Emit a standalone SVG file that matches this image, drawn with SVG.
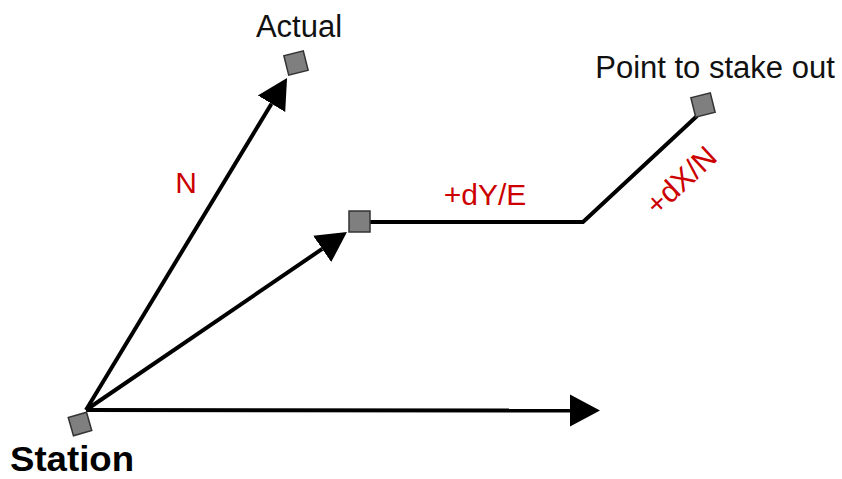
<svg xmlns="http://www.w3.org/2000/svg" width="842" height="479" viewBox="0 0 842 479">
  <defs>
    <style>
      .ln { stroke: #000; stroke-width: 4; fill: none; }
      .arr { marker-end: url(#head); }
      .sq { fill: #7f7f7f; stroke: #333; stroke-width: 1.5; }
      .lbl { font-family: "Liberation Sans", Arial, sans-serif; font-size: 31px; fill: #111; }
      .red { font-family: "Liberation Sans", Arial, sans-serif; font-size: 30px; fill: #cc0000; }
      .bold { font-family: "Liberation Sans", Arial, sans-serif; font-size: 35px; font-weight: bold; fill: #000; }
    </style>
    <marker id="head" markerUnits="userSpaceOnUse" markerWidth="32" markerHeight="34" refX="0" refY="17" orient="auto" viewBox="0 0 32 34">
      <path d="M0,1 L30,17 L0,33 z" fill="#000"/>
    </marker>
  </defs>
  <rect width="842" height="479" fill="#fff"/>
  <g id="connectors">
    <line class="ln arr" x1="86" y1="410" x2="570" y2="410.5"/>
    <line class="ln arr" x1="86" y1="410" x2="271.5" y2="103.7"/>
    <line class="ln arr" x1="86" y1="410" x2="322.2" y2="248.9"/>
    <polyline class="ln" points="370,222 583,222 697,116"/>
  </g>
  <g id="station">
    <rect class="sq" x="-9.5" y="-9.5" width="19" height="19" transform="translate(80,424) rotate(-16)"/>
    <text class="bold" x="10" y="471" textLength="124" lengthAdjust="spacingAndGlyphs">Station</text>
  </g>
  <g id="actual">
    <rect class="sq" x="-10" y="-10" width="20" height="20" transform="translate(296,63) rotate(-14)"/>
    <text class="lbl" x="299" y="37" text-anchor="middle">Actual</text>
  </g>
  <g id="midpoint">
    <rect class="sq" x="349" y="211" width="21" height="21"/>
  </g>
  <g id="stakeout">
    <rect class="sq" x="-10" y="-10" width="20" height="20" transform="translate(703,105) rotate(-14)"/>
    <text class="lbl" x="715" y="78" text-anchor="middle">Point to stake out</text>
  </g>
  <g id="labels">
    <text class="red" x="186" y="193" text-anchor="middle">N</text>
    <text class="red" x="485" y="205" text-anchor="middle">+dY/E</text>
    <text class="red" x="0" y="0" text-anchor="middle" transform="translate(688,188) rotate(-43)">+dX/N</text>
  </g>
</svg>
